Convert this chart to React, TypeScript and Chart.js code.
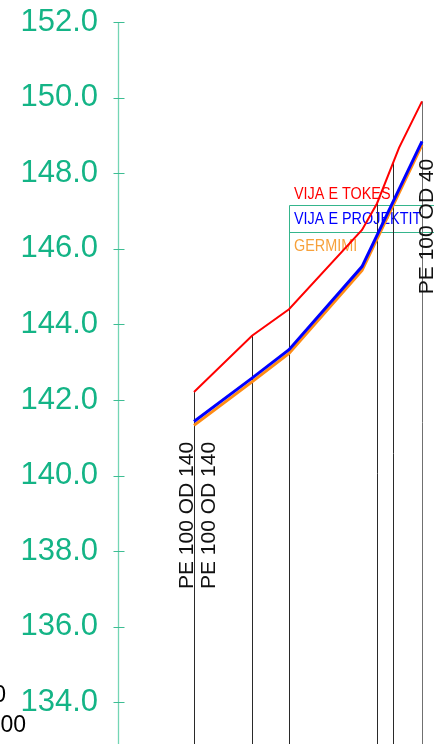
import React, { useEffect, useRef } from "react";
import { Chart, registerables } from "chart.js";

Chart.register(...registerables);

// ---- data ----
const Y_MIN = 132.9;
const Y_MAX = 152;
const X_MIN = 0;
const X_MAX = 158;
const yTickValues = [134, 136, 138, 140, 142, 144, 146, 148, 150, 152];

const seriesNames = ["VIJA E TOKES", "VIJA E PROJEKTIT", "GERMIMI"];

const groundStations = [38, 67, 85.5, 122, 129.5, 140.5, 152];
const groundLevels = [142.21, 143.7, 144.4, 146.5, 147.2, 148.67, 149.9];

const designStations = [38, 67, 85.5, 122, 152];
const designLevels = [141.43, 142.58, 143.33, 145.53, 148.84];
const excavationLevels = [141.33, 142.48, 143.23, 145.43, 148.75];

const profileStations = [38, 67, 85.5, 129.5, 137.5, 152];

const pipeLabels = ["PE 100 OD 140", "PE 100 OD 140", "PE 100 OD 40"];
const pipeLabelStations = [38, 38, 152];
const pipeLabelLevels = [137.0, 137.0, 144.8];

const legendBoxStation = 85.5;
const legendBoxLevels = [147.16, 146.45];

const edgeTexts = ["0", "00"];

// ---- styles ----
const FONT = '"Liberation Sans", Arial, sans-serif';
const AXIS_TEXT = "#14b486";
const AXIS_LINE = "#74d5b4";
const AXIS_TICK = "#3dbd93";
const BOX_COLOR = "#35b58c";
const RED = "#ff0000";
const BLUE = "#0000ff";
const ORANGE = "#ff8c14";
const ORANGE_TEXT = "#f7a13b";

function groundAt(s: number): number {
  for (let i = 0; i < groundStations.length - 1; i++) {
    const a = groundStations[i];
    const b = groundStations[i + 1];
    if (s >= a && s <= b) {
      const t = (s - a) / (b - a);
      return groundLevels[i] + t * (groundLevels[i + 1] - groundLevels[i]);
    }
  }
  return s < groundStations[0] ? groundLevels[0] : groundLevels[groundLevels.length - 1];
}

const profilePlugin = {
  id: "profilePlugin",
  beforeDatasetsDraw(chart: any) {
    const { ctx, chartArea, scales } = chart;
    const x = scales.x;
    const y = scales.y;
    ctx.save();
    // legend box
    const bx = Math.round(x.getPixelForValue(legendBoxStation)) + 0.5;
    const [t, m] = legendBoxLevels.map((v) => Math.round(y.getPixelForValue(v)) + 0.5);
    ctx.strokeStyle = BOX_COLOR;
    ctx.lineWidth = 1;
    ctx.beginPath();
    ctx.moveTo(bx, t);
    ctx.lineTo(chartArea.right, t);
    ctx.moveTo(bx, m);
    ctx.lineTo(chartArea.right, m);
    ctx.moveTo(bx, t);
    ctx.lineTo(bx, chartArea.bottom);
    ctx.stroke();

    // legend texts
    const legendColors = [RED, BLUE, ORANGE_TEXT];
    const baselines = [t - 7, t + 18.5, m + 18.5];
    ctx.font = `16px ${FONT}`;
    ctx.textAlign = "left";
    ctx.textBaseline = "alphabetic";
    seriesNames.forEach((name, i) => {
      ctx.save();
      ctx.translate(bx + 4.5, baselines[i]);
      ctx.scale(0.9, 1);
      ctx.fillStyle = legendColors[i];
      ctx.fillText(name, 0, 0);
      ctx.restore();
    });

    // vertical station lines
    ctx.lineWidth = 1;
    profileStations.forEach((s, i) => {
      const px = Math.round(x.getPixelForValue(s)) + 0.5;
      const py = y.getPixelForValue(groundAt(s));
      ctx.strokeStyle = i === profileStations.length - 1 ? "#707070" : "#2a2a2a";
      ctx.beginPath();
      ctx.moveTo(px, py);
      ctx.lineTo(px, chartArea.bottom);
      ctx.stroke();
    });
    ctx.restore();
  },
  afterDatasetsDraw(chart: any) {
    const { ctx, scales } = chart;
    const x = scales.x;
    const y = scales.y;
    const dxs = [-1, 21, 11];
    ctx.save();
    ctx.font = `21px ${FONT}`;
    ctx.fillStyle = "#111";
    ctx.textAlign = "left";
    ctx.textBaseline = "alphabetic";
    pipeLabels.forEach((txt, i) => {
      const px = x.getPixelForValue(pipeLabelStations[i]) + dxs[i];
      const py = y.getPixelForValue(pipeLabelLevels[i]);
      ctx.save();
      ctx.translate(px, py);
      ctx.rotate(-Math.PI / 2);
      ctx.fillText(txt, 0, 0);
      ctx.restore();
    });
    ctx.restore();
  },
  afterDraw(chart: any) {
    const { ctx, chartArea, scales } = chart;
    const y = scales.y;
    const ax = Math.round(chartArea.left) + 0.5;
    ctx.save();
    ctx.strokeStyle = AXIS_LINE;
    ctx.lineWidth = 1.3;
    ctx.beginPath();
    ctx.moveTo(ax, y.getPixelForValue(Y_MAX));
    ctx.lineTo(ax, chartArea.bottom);
    ctx.stroke();
    ctx.strokeStyle = AXIS_TICK;
    ctx.lineWidth = 1;
    yTickValues.forEach((v) => {
      const py = Math.round(y.getPixelForValue(v)) + 0.5;
      ctx.beginPath();
      ctx.moveTo(ax - 5, py);
      ctx.lineTo(ax + 6, py);
      ctx.stroke();
    });
    // cropped texts at the left edge
    ctx.font = `23px ${FONT}`;
    ctx.fillStyle = "#000";
    ctx.textAlign = "right";
    ctx.textBaseline = "alphabetic";
    ctx.fillText(edgeTexts[0], 6, 702);
    ctx.fillText(edgeTexts[1], 26, 732);
    ctx.restore();
  },
};

export default function App() {
  const ref = useRef<HTMLCanvasElement>(null);
  useEffect(() => {
    document.body.style.margin = "0";
    const canvas = ref.current;
    if (!canvas) return;
    const chart = new Chart(canvas, {
      type: "line",
      data: {
        datasets: [
          {
            label: seriesNames[0],
            data: groundStations.map((s, i) => ({ x: s, y: groundLevels[i] })),
            borderColor: RED,
            borderWidth: 2,
            pointRadius: 0,
            tension: 0,
            fill: false,
          },
          {
            label: seriesNames[1],
            data: designStations.map((s, i) => ({ x: s, y: designLevels[i] })),
            borderColor: BLUE,
            borderWidth: 3,
            pointRadius: 0,
            tension: 0,
            fill: false,
          },
          {
            label: seriesNames[2],
            data: designStations.map((s, i) => ({ x: s, y: excavationLevels[i] })),
            borderColor: ORANGE,
            borderWidth: 3,
            pointRadius: 0,
            tension: 0,
            fill: false,
          },
        ],
      },
      options: {
        responsive: false,
        animation: false,
        devicePixelRatio: 1,
        layout: { padding: { top: 22, left: 0, right: 0, bottom: 0 } },
        plugins: {
          legend: { display: false },
          tooltip: { enabled: false },
        },
        scales: {
          x: { type: "linear", min: X_MIN, max: X_MAX, display: false },
          y: {
            type: "linear",
            position: "left",
            min: Y_MIN,
            max: Y_MAX,
            afterBuildTicks: (s: any) => {
              s.ticks = yTickValues.map((v) => ({ value: v }));
            },
            afterFit: (s: any) => {
              s.width = 118;
              s.paddingTop = 0;
              s.paddingBottom = 0;
            },
            grid: { display: false, drawTicks: false },
            border: { display: false },
            ticks: {
              padding: 20,
              color: AXIS_TEXT,
              font: { family: FONT, size: 31 },
              callback: (v: any) => Number(v).toFixed(1),
            },
          },
        },
      },
      plugins: [profilePlugin],
    } as any);
    return () => chart.destroy();
  }, []);
  return (
    <div style={{ position: "fixed", left: 0, top: 0, width: 434, height: 744, background: "#fff" }}>
      <canvas ref={ref} width={434} height={744} style={{ display: "block", width: 434, height: 744 }} />
    </div>
  );
}
